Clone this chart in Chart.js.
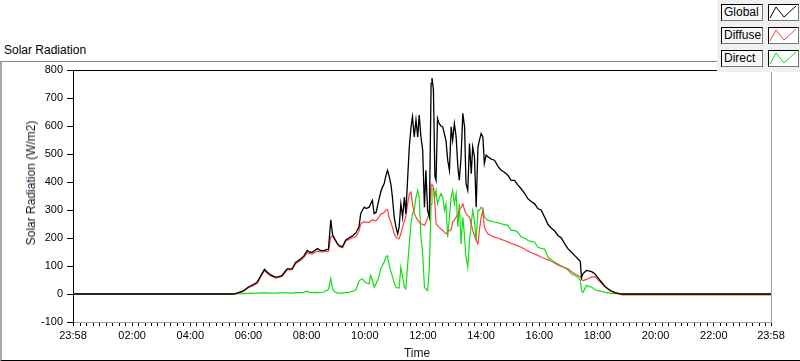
<!DOCTYPE html>
<html lang="en">
<head>
  <meta charset="utf-8">
  <title>Solar Radiation</title>
  <script src="https://cdn.jsdelivr.net/npm/chart.js@4.4.1/dist/chart.umd.min.js"></script>
  <style>
    body { margin: 0; background: #fff; }
    #wrap { position: relative; width: 800px; height: 361px; overflow: hidden; background: #fff;
            font-family: "Liberation Sans", Arial, sans-serif; }
    #c { position: absolute; left: 0; top: 0; z-index: 2; }
    .caption { position: absolute; left: 4px; top: 43px; font-size: 12px; line-height: 14px; color: #000; }
    .frame { position: absolute; left: 0; top: 61px; width: 810px; height: 300px; box-sizing: border-box;
             border-top: 1px solid #8a8a8a; border-left: 2px solid #a8a8a8; border-bottom: 1px solid #000; z-index: 1; }
    .ytitle { position: absolute; left: 31px; top: 183px; transform: translate(-50%, -50%) rotate(-90deg);
              white-space: nowrap; font-size: 12px; color: #14142a; z-index: 3; }
    .xtitle { position: absolute; left: 417px; top: 353px; transform: translate(-50%, -50%);
              font-size: 12px; color: #14142a; z-index: 3; }
    .legend { position: absolute; left: 717px; top: 0; width: 90px; height: 72px; background: #f0f0f0; z-index: 4; }
    .legend .lbl { position: absolute; left: 4px; width: 42px; height: 17px; box-sizing: border-box;
                   border: 1px solid #000; border-right-color: #777; border-bottom-color: #777; background: #f7f7f7;
                   font-size: 12px; line-height: 15px; padding-left: 2px; color: #000; }
    .legend .ico { position: absolute; left: 51px; width: 31px; height: 17px; box-sizing: border-box;
                   border: 1px solid #000; border-right-color: #777; border-bottom-color: #777; background: #fff; }
    .legend svg { position: absolute; left: 0; top: 0; }
  </style>
</head>
<body>
<div id="wrap">
  <div class="caption">Solar Radiation</div>
  <div class="frame"></div>
  <canvas id="c" width="800" height="361"></canvas>
  <div class="ytitle">Solar Radiation (W/m2)</div>
  <div class="xtitle">Time</div>
  <div class="legend">
    <div class="lbl" style="top:4px">Global</div>
    <div class="ico" style="top:4px"><svg width="29" height="15"><polyline points="1,13 7,2 15,12 27,1" fill="none" stroke="#000" stroke-width="1"/></svg></div>
    <div class="lbl" style="top:27px">Diffuse</div>
    <div class="ico" style="top:27px"><svg width="29" height="15"><polyline points="1,13 7,2 15,12 27,1" fill="none" stroke="#ff4040" stroke-width="1"/></svg></div>
    <div class="lbl" style="top:50px">Direct</div>
    <div class="ico" style="top:50px"><svg width="29" height="15"><polyline points="1,13 7,2 15,12 27,1" fill="none" stroke="#10e010" stroke-width="1"/></svg></div>
  </div>
</div>
<script>
  // time of day in hours (23:58 of the day before is -2 min)
  var hours = [-0.0333, 5.5, 5.6, 5.8, 6.0, 6.15, 6.3, 6.45, 6.55, 6.65, 6.76, 6.93, 7.05, 7.16, 7.33, 7.5, 7.62, 7.79, 7.9,
    8.02, 8.1, 8.19, 8.37, 8.48, 8.6, 8.75, 8.83, 8.89, 8.96, 9.05, 9.12, 9.23, 9.34, 9.45, 9.52, 9.6, 9.69, 9.8, 9.86, 9.92, 9.98,
    10.05, 10.15, 10.2, 10.26, 10.32, 10.39, 10.47, 10.55, 10.6, 10.67, 10.72, 10.78, 10.83, 10.9, 10.95,
    11.01, 11.07, 11.13, 11.18, 11.24, 11.3, 11.36, 11.41, 11.47, 11.53, 11.59, 11.64, 11.7, 11.76, 11.82, 11.87, 11.93, 11.99,
    12.05, 12.1, 12.16, 12.22, 12.28, 12.31, 12.36, 12.41, 12.45, 12.5, 12.55, 12.62, 12.68, 12.74, 12.79, 12.85, 12.91, 12.97,
    13.02, 13.08, 13.14, 13.2, 13.25, 13.31, 13.37, 13.43, 13.48, 13.54, 13.6, 13.66, 13.71, 13.77, 13.83, 13.89, 13.94,
    14.0, 14.06, 14.11, 14.17, 14.23, 14.35, 14.46, 14.59, 14.69, 14.8, 14.92, 15.03, 15.15, 15.26, 15.38, 15.49, 15.61, 15.72,
    15.84, 15.95, 16.07, 16.18, 16.3, 16.42, 16.53, 16.64, 16.76, 16.87, 16.99, 17.1, 17.22, 17.33, 17.41, 17.45, 17.5, 17.62,
    17.8, 17.91, 18.0, 18.14, 18.25, 18.37, 18.48, 18.6, 18.75, 18.85, 23.9667];

  var globalRad = [0, 0, 3, 10, 25, 33, 42, 70, 88, 78, 68, 60, 62, 67, 90, 90, 113, 125, 135,
    156, 150, 149, 162, 155, 156, 160, 265, 212, 198, 182, 173, 168, 192, 200, 204, 210, 218, 240, 287, 300, 310,
    305, 310, 322, 334, 287, 292, 330, 365, 380, 395, 420, 442, 424, 390, 346,
    275, 240, 215, 239, 322, 275, 346, 287, 406, 525, 597, 633, 561, 621, 561, 639, 561, 514,
    310, 442, 299, 275, 752, 771, 729, 420, 406, 627, 609, 600, 597, 570, 549, 478, 442, 597,
    549, 609, 561, 454, 406, 490, 645, 597, 394, 370, 537, 430, 525, 490, 310, 525, 549,
    573, 561, 466, 496, 490, 482, 478, 454, 442, 435, 424, 406, 406, 390, 375, 360, 340, 330,
    322, 305, 299, 275, 248, 235, 225, 209, 200, 180, 161, 150, 137, 125, 117, 58, 72, 84,
    80, 72, 60, 42, 28, 18, 10, 5, 1, 0, 0];

  var diffuseRad = [0, 0, 2, 8, 22, 30, 38, 66, 84, 74, 65, 57, 59, 63, 86, 87, 108, 120, 130,
    148, 144, 143, 153, 150, 151, 152, 205, 206, 195, 180, 170, 165, 188, 195, 198, 202, 204, 225, 250, 255, 258,
    256, 256, 260, 265, 262, 262, 272, 285, 288, 291, 300, 302, 275, 255, 239,
    215, 203, 198, 197, 215, 239, 260, 275, 320, 358, 364, 322, 287, 275, 263, 257, 251, 248,
    245, 255, 275, 280, 388, 390, 382, 322, 251, 245, 239, 232, 227, 220, 215, 220, 227, 230,
    257, 265, 275, 285, 299, 310, 322, 300, 287, 280, 275, 250, 227, 210, 191, 179, 227,
    275, 299, 239, 225, 215, 208, 203, 199, 195, 191, 186, 181, 177, 172, 167, 161, 153, 148,
    143, 138, 131, 127, 122, 116, 111, 104, 98, 94, 90, 80, 72, 66, 62, 52, 48, 52,
    60, 62, 52, 38, 26, 17, 10, 5, 0, -3, -3];

  var directRad = [0, 0, 0, 1, 2, 3, 3, 4, 4, 4, 3, 3, 4, 4, 4, 3, 5, 5, 6,
    10, 6, 5, 6, 5, 7, 16, 55, 20, 8, 4, 3, 3, 5, 6, 8, 10, 14, 45, 52, 54, 45,
    40, 36, 66, 50, 24, 38, 55, 90, 100, 115, 131, 137, 105, 80, 62,
    40, 24, 22, 22, 96, 60, 24, 18, 100, 179, 251, 287, 299, 346, 370, 346, 203, 143,
    24, 18, 12, 96, 322, 376, 376, 346, 370, 322, 340, 358, 346, 299, 322, 203, 275, 346,
    370, 322, 358, 239, 322, 179, 275, 203, 131, 96, 191, 251, 299, 263, 191, 299, 299,
    310, 305, 275, 270, 263, 260, 257, 254, 251, 248, 245, 227, 227, 221, 203, 200, 191, 188,
    185, 167, 163, 161, 131, 122, 113, 107, 100, 95, 85, 72, 66, 60, 48, 12, 6, 30,
    24, 16, 12, 10, 6, 4, 2, 1, 0, 0, 0];

  var axisStart = -0.0333, axisEnd = 23.9667;

  function pts(vals) {
    return hours.map(function (h, i) { return { x: h, y: vals[i] }; });
  }

  // tick marks: every 2/9 h, labels only on the even hours and on both 23:58 ends
  var tickVals = [axisStart];
  for (var k = 1; k < 108; k++) tickVals.push(k * 2 / 9);
  tickVals.push(axisEnd);

  function tickLabel(v) {
    if (Math.abs(v - axisStart) < 0.001 || Math.abs(v - axisEnd) < 0.001) return '23:58';
    var r = Math.round(v);
    if (Math.abs(v - r) < 0.001 && r % 2 === 0 && r > 0 && r < 24) return (r < 10 ? '0' : '') + r + ':00';
    return '';
  }

  var plotFrame = {
    id: 'plotFrame',
    afterDraw: function (chart) {
      var a = chart.chartArea, ctx = chart.ctx;
      ctx.save();
      ctx.lineWidth = 1;
      ctx.strokeStyle = '#000';
      ctx.beginPath(); ctx.moveTo(a.left, a.top + 0.5); ctx.lineTo(a.right, a.top + 0.5); ctx.stroke();
      ctx.strokeStyle = '#a0a0a0';
      ctx.beginPath(); ctx.moveTo(a.right + 0.5, a.top); ctx.lineTo(a.right + 0.5, a.bottom); ctx.stroke();
      ctx.restore();
    }
  };

  Chart.defaults.font.family = '"Liberation Sans", Arial, sans-serif';
  Chart.defaults.font.size = 11;
  Chart.defaults.color = '#000';

  new Chart(document.getElementById('c'), {
    type: 'line',
    data: {
      datasets: [
        { label: 'Global', data: pts(globalRad), borderColor: '#000', borderWidth: 1.3 },
        { label: 'Diffuse', data: pts(diffuseRad), borderColor: '#ff4040', borderWidth: 1.2 },
        { label: 'Direct', data: pts(directRad), borderColor: '#10e010', borderWidth: 1.2 }
      ]
    },
    options: {
      responsive: false,
      animation: false,
      events: [],
      elements: { point: { radius: 0 }, line: { tension: 0 } },
      layout: { padding: { top: 70, right: 29, left: 0, bottom: 0 } },
      plugins: { legend: { display: false }, tooltip: { enabled: false } },
      scales: {
        x: {
          type: 'linear',
          min: axisStart,
          max: axisEnd,
          afterBuildTicks: function (s) { s.ticks = tickVals.map(function (v) { return { value: v }; }); },
          afterFit: function (s) { s.height = 39; },
          ticks: { autoSkip: false, maxRotation: 0, padding: 3, callback: function (v) { return tickLabel(v); } },
          grid: { drawOnChartArea: false, color: '#000', tickLength: 4 },
          border: { color: '#a0a0a0', width: 1 }
        },
        y: {
          min: -100,
          max: 800,
          afterFit: function (s) { s.width = 73; },
          ticks: { stepSize: 100, padding: 4 },
          grid: { drawOnChartArea: false, color: '#000', tickLength: 6 },
          border: { color: '#000', width: 1 }
        }
      }
    },
    plugins: [plotFrame]
  });
</script>
</body>
</html>
